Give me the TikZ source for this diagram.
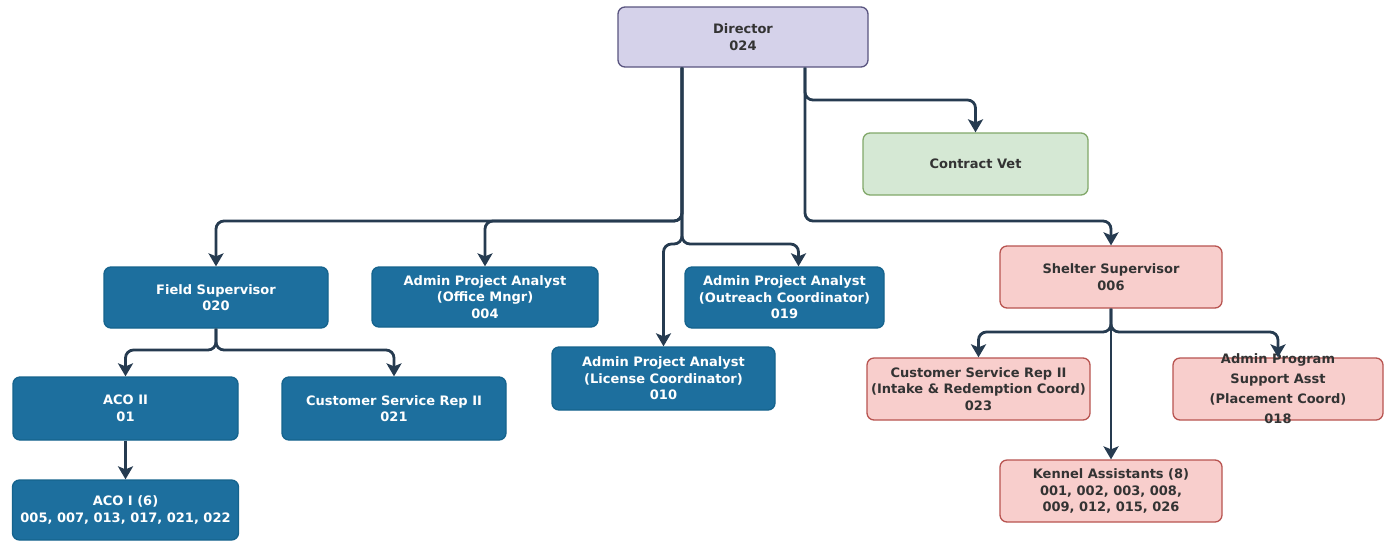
\documentclass[tikz,border=0pt]{standalone}
\usepackage{fontspec}
\setmainfont{DejaVu Sans}
\usetikzlibrary{arrows.meta}

\definecolor{bluefill}{HTML}{1D6F9E}
\definecolor{blueline}{HTML}{15638D}
\definecolor{pinkfill}{HTML}{F8CECC}
\definecolor{pinkline}{HTML}{B85450}
\definecolor{greenfill}{HTML}{D5E8D4}
\definecolor{greenline}{HTML}{82A86A}
\definecolor{lavfill}{HTML}{D5D2EA}
\definecolor{lavline}{HTML}{5A5580}
\definecolor{connclr}{HTML}{263B50}
\definecolor{darktext}{HTML}{333333}

\begin{document}
\begin{tikzpicture}[x=1pt,y=-1pt,
  box/.style={rounded corners=7pt, line width=1.3pt, inner sep=0pt, align=center,
    font=\fontsize{13}{16.5}\selectfont\bfseries},
  sz/.style 2 args={minimum width=#1pt, minimum height=#2pt},
  bluebox/.style={box, fill=bluefill, draw=blueline, text=white},
  pinkbox/.style={box, fill=pinkfill, draw=pinkline, text=darktext},
  greenbox/.style={box, fill=greenfill, draw=greenline, text=darktext},
  lavbox/.style={box, fill=lavfill, draw=lavline, text=darktext},
  conn/.style={draw=connclr, line width=2.8pt, rounded corners=8pt,
    -{Stealth[width=15pt,length=13pt,inset=3pt]}}
]
\fill[white] (0,0) rectangle (1389,542);
\useasboundingbox (0,0) rectangle (1389,542);

% ---- boxes ----
\node[lavbox, sz={250}{60}] (dir) at (743,37) {Director\\024};
\node[greenbox, sz={225}{62}] (vet) at (975.5,164) {Contract Vet};

\node[bluebox, sz={224}{61}] (field) at (216,297.5) {Field Supervisor\\020};
\node[bluebox, sz={226}{60}] (office) at (485,297) {Admin Project Analyst\\(Office Mngr)\\004};
\node[bluebox, sz={199}{61}] (outreach) at (784.5,297.5) {Admin Project Analyst\\(Outreach Coordinator)\\019};
\node[bluebox, sz={223}{63}] (license) at (663.5,378.5) {Admin Project Analyst\\(License Coordinator)\\010};
\node[bluebox, sz={225}{63}] (aco2) at (125.5,408.5) {ACO II\\01};
\node[bluebox, sz={224}{63}] (csr021) at (394,408.5) {Customer Service Rep II\\021};
\node[bluebox, sz={226}{60}] (aco1) at (125.5,510) {ACO I (6)\\005, 007, 013, 017, 021, 022};

\node[pinkbox, sz={222}{62}] (shelter) at (1111,277) {Shelter Supervisor\\006};
\node[pinkbox, sz={223}{62}] (csr023) at (978.5,389) {Customer Service Rep II\\(Intake \& Redemption Coord)\\023};
\node[pinkbox, sz={210}{62}] (admprog) at (1278,389) {};
\node[box, text=darktext, font=\fontsize{13}{20}\selectfont\bfseries] (admprogtext) at (admprog.center)
  {Admin Program\\Support Asst\\(Placement Coord)\\018};
\node[pinkbox, sz={222}{62}] (kennel) at (1111,491) {Kennel Assistants (8)\\001, 002, 003, 008,\\009, 012, 015, 026};

% ---- trunk and bus levels ----
\coordinate (tL) at ([xshift=-61pt]dir.south);
\coordinate (tR) at ([xshift=62pt]dir.south);
\coordinate (busVet) at (0,100);
\coordinate (busTop) at (0,221);
\coordinate (busMid) at (0,244);
\coordinate (busField) at (0,350);
\coordinate (busShelter) at (0,332);
\coordinate (outreachIn) at ([xshift=14pt]outreach.north);

% ---- connectors ----
\draw[conn] (tL) -- (tL |- busTop) -| (field.north);
\draw[conn] (tL) -- (tL |- busTop) -| (office.north);
\draw[conn] (tL) -- (tL |- busMid) -| (outreachIn);
\draw[conn] (tL) -- (tL |- busMid) -| (license.north);
\draw[conn] (tR) -- (tR |- busVet) -| (vet.north);
\draw[conn] (tR) -- (tR |- busTop) -| (shelter.north);

\draw[conn] (field.south) -- (field.south |- busField) -| (aco2.north);
\draw[conn] (field.south) -- (field.south |- busField) -| (csr021.north);
\draw[conn] (aco2.south) -- (aco1.north);

\draw[conn] (shelter.south) -- (shelter.south |- busShelter) -| (csr023.north);
\draw[conn] (shelter.south) -- (shelter.south |- busShelter) -| (admprog.north);
\draw[conn] (shelter.south) -- (kennel.north);
\end{tikzpicture}
\end{document}
